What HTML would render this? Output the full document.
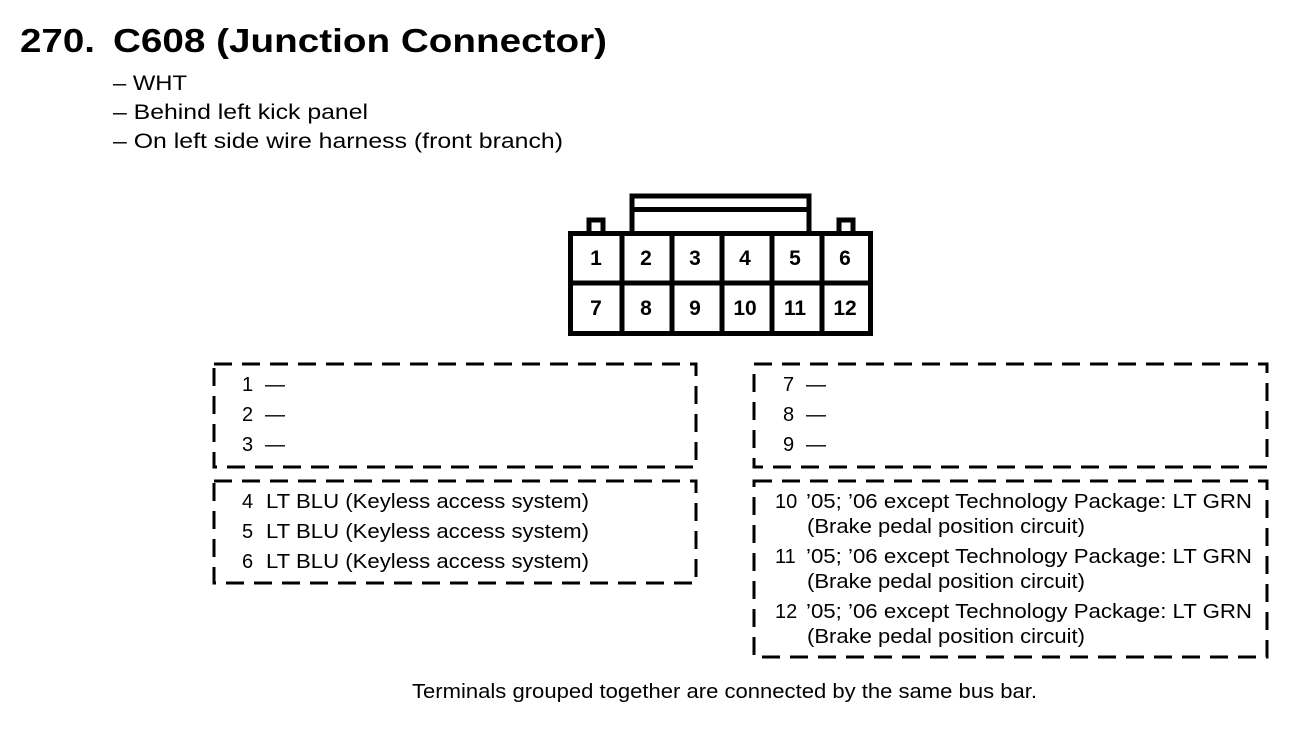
<!DOCTYPE html>
<html><head><style>
body{margin:0;background:#fff;}
</style></head><body>
<svg width="1312" height="744" xmlns="http://www.w3.org/2000/svg" font-family="Liberation Sans, Arial, sans-serif">
<rect width="1312" height="744" fill="#fff"/>
<g font-size="33" font-weight="bold">
<text x="20" y="52" textLength="75" lengthAdjust="spacingAndGlyphs">270.</text>
<text x="113" y="52" textLength="494" lengthAdjust="spacingAndGlyphs">C608 (Junction Connector)</text>
</g>
<g font-size="21">
<text x="113" y="90" textLength="74" lengthAdjust="spacingAndGlyphs">– WHT</text>
<text x="113" y="119" textLength="255" lengthAdjust="spacingAndGlyphs">– Behind left kick panel</text>
<text x="113" y="148" textLength="450" lengthAdjust="spacingAndGlyphs">– On left side wire harness (front branch)</text>
</g>
<g fill="none" stroke="#000" stroke-width="5">
<rect x="632" y="196" width="177" height="40"/>
<line x1="632" y1="209.5" x2="809" y2="209.5"/>
<path d="M589 236 V220 H603 V236"/>
<path d="M839 236 V220 H853 V236"/>
</g>
<rect x="570.5" y="233.5" width="300" height="100" fill="#fff" stroke="#000" stroke-width="5"/>
<g stroke="#000" stroke-width="5">
<line x1="622" y1="233" x2="622" y2="334"/>
<line x1="672" y1="233" x2="672" y2="334"/>
<line x1="722" y1="233" x2="722" y2="334"/>
<line x1="772" y1="233" x2="772" y2="334"/>
<line x1="822" y1="233" x2="822" y2="334"/>
<line x1="570" y1="283" x2="871" y2="283"/>
</g>
<g font-size="21" font-weight="bold" text-anchor="middle">
<text x="596" y="265">1</text><text x="646" y="265">2</text><text x="695" y="265">3</text><text x="745" y="265">4</text><text x="795" y="265">5</text><text x="845" y="265">6</text>
<text x="596" y="315">7</text><text x="646" y="315">8</text><text x="695" y="315">9</text><text x="745" y="315">10</text><text x="795" y="315">11</text><text x="845" y="315">12</text>
</g>
<g fill="none" stroke="#000" stroke-width="3" stroke-dasharray="18 10">
<rect x="214" y="364" width="482" height="103"/>
<rect x="214" y="481" width="482" height="102"/>
<rect x="754" y="364" width="513" height="103"/>
<rect x="754" y="481" width="513" height="176"/>
</g>
<g font-size="20">
<text x="242" y="391">1</text><text x="265" y="391">—</text>
<text x="242" y="421">2</text><text x="265" y="421">—</text>
<text x="242" y="451">3</text><text x="265" y="451">—</text>
<text x="242" y="508">4</text><text x="266" y="508" textLength="323" lengthAdjust="spacingAndGlyphs">LT BLU (Keyless access system)</text>
<text x="242" y="538">5</text><text x="266" y="538" textLength="323" lengthAdjust="spacingAndGlyphs">LT BLU (Keyless access system)</text>
<text x="242" y="568">6</text><text x="266" y="568" textLength="323" lengthAdjust="spacingAndGlyphs">LT BLU (Keyless access system)</text>
<text x="783" y="391">7</text><text x="806" y="391">—</text>
<text x="783" y="421">8</text><text x="806" y="421">—</text>
<text x="783" y="451">9</text><text x="806" y="451">—</text>
<text x="775" y="508">10</text><text x="806" y="508" textLength="446" lengthAdjust="spacingAndGlyphs">’05; ’06 except Technology Package: LT GRN</text>
<text x="807" y="533" textLength="278" lengthAdjust="spacingAndGlyphs">(Brake pedal position circuit)</text>
<text x="775" y="563">11</text><text x="806" y="563" textLength="446" lengthAdjust="spacingAndGlyphs">’05; ’06 except Technology Package: LT GRN</text>
<text x="807" y="588" textLength="278" lengthAdjust="spacingAndGlyphs">(Brake pedal position circuit)</text>
<text x="775" y="618">12</text><text x="806" y="618" textLength="446" lengthAdjust="spacingAndGlyphs">’05; ’06 except Technology Package: LT GRN</text>
<text x="807" y="643" textLength="278" lengthAdjust="spacingAndGlyphs">(Brake pedal position circuit)</text>
<text x="412" y="698" textLength="625" lengthAdjust="spacingAndGlyphs">Terminals grouped together are connected by the same bus bar.</text>
</g>
</svg>
</body></html>
